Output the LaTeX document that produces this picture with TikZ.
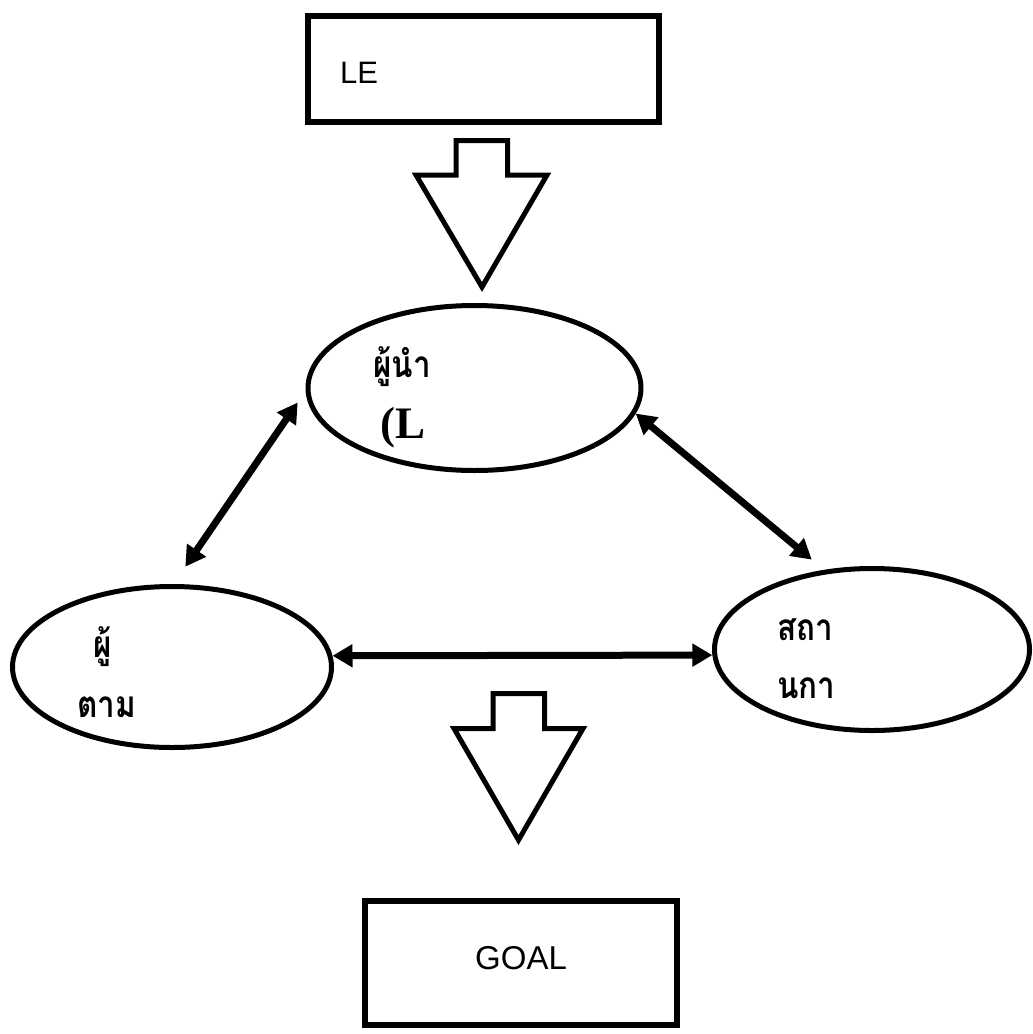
\documentclass[tikz,border=0pt]{standalone}
\usepackage{fontspec}
\setmainfont{Liberation Sans}
\newfontfamily\thaifont[Script=Thai, FakeStretch=0.85]{Loma}
\newfontfamily\timesfont{Liberation Serif}
\usepackage{tikz}
\usetikzlibrary{shapes.geometric, arrows.meta}

\begin{document}
\begin{tikzpicture}[x=1pt, y=-1pt, >={Triangle[length=20pt, width=22pt]},
    hop/.style={draw, line width=6pt, inner sep=0pt},
    elip/.style={draw, ellipse, line width=5pt, inner sep=0pt},
    khoi/.style={draw, line width=5pt, miter limit=10},
    doi/.style={<->, line width=7pt},
    chu/.style={anchor=base west, inner sep=0pt},
    thai/.style={chu, font=\thaifont\bfseries\fontsize{37}{37}\selectfont}]
    \useasboundingbox (0,0) rectangle (1033,1034);

    % 1. Hai hop
    \node[hop, minimum width=351pt, minimum height=106pt] (le) at (483.5,69) {};
    \node[hop, minimum width=312pt, minimum height=124pt] (goal) at (521,963) {};
    \node[chu, font=\fontsize{31}{31}\selectfont] (letext) at (340,83) {LE};
    \node[chu, font=\fontsize{33}{33}\selectfont] (goaltext) at (475,969) {GOAL};

    % 2. Ba hinh elip
    \node[elip, minimum width=333pt, minimum height=165pt] (lead) at (474.5,388) {};
    \node[elip, minimum width=319pt, minimum height=161pt] (follow) at (172,667) {};
    \node[elip, minimum width=315pt, minimum height=162pt] (sit) at (872,649.5) {};

    \node[thai] (leadtext) at (373,377) {ผู้นำ};
    \node[chu, font=\timesfont\bfseries\fontsize{45}{45}\selectfont] (leadL) at (380,438) {(L};
    \node[thai] (followa) at (93,657) {ผู้};
    \node[thai] (followb) at (77,717) {ตาม};
    \node[thai] (sita) at (777,640) {สถา};
    \node[thai] (sitb) at (777,698) {นกา};

    % 3. Mui ten lon
    \draw[khoi] (456,140.5) -- (507.5,140.5) -- (507.5,175) -- (547,175)
        -- (482,287) -- (416,175) -- (456,175) -- cycle;
    \draw[khoi] (493,693.5) -- (544.5,693.5) -- (544.5,728.5) -- (583,728.5)
        -- (518.5,840) -- (454,728.5) -- (493,728.5) -- cycle;

    % 4. Mui ten hai chieu
    \draw[doi, shorten <=14pt, shorten >=21pt] (lead.181) -- (follow.89);
    \draw[doi, shorten >=16pt] (lead.351) -- (sit.121);
    \draw[doi] (follow.4) -- (sit.182);
\end{tikzpicture}
\end{document}
